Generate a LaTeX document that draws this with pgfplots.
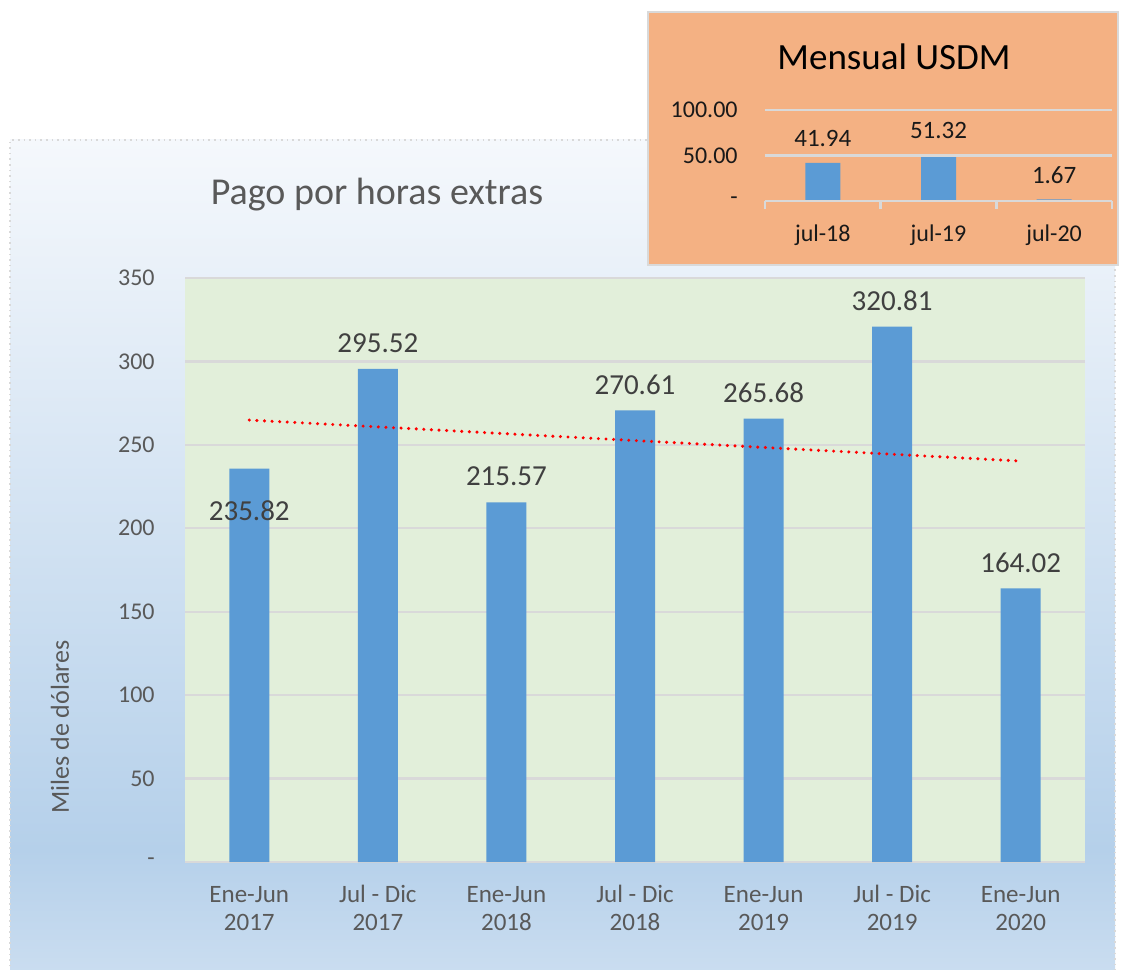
\documentclass[border=0pt]{standalone}
\usepackage{pgfplots}
\pgfplotsset{compat=1.18}
\usepackage{pgfplotstable}
\usepackage{fontspec}
\setmainfont{Carlito}
\definecolor{barblue}{HTML}{5B9BD5}
\definecolor{plotgreen}{HTML}{E2EFDA}
\definecolor{gridgray}{HTML}{D9D9D9}
\definecolor{txtgray}{HTML}{595959}
\definecolor{lbldark}{HTML}{404040}
\definecolor{orangebg}{HTML}{F4B183}
\definecolor{bgtop}{HTML}{F5F8FC}
\definecolor{bgmid}{HTML}{B5D0EA}
\definecolor{bgbot}{HTML}{CADDF0}

\pgfplotstableread{
x y off lab
0 235.82 -21 235.82
1 295.52 13 295.52
2 215.57 13 215.57
3 270.61 13 270.61
4 265.68 13 265.68
5 320.81 13 320.81
6 164.02 13 164.02
}\maindata
\pgfplotstableread{
x y lab
0 41.94 41.94
1 51.32 51.32
2 1.67 1.67
}\insetdata

\begin{document}
\begin{tikzpicture}
\path[use as bounding box] (0,0) rectangle (565.5pt,485pt);
\shade[top color=bgtop, bottom color=bgmid] (5pt,60pt) rectangle (557.5pt,415pt);
\shade[top color=bgmid, bottom color=bgbot] (5pt,-1pt) rectangle (557.5pt,60.2pt);
\draw[gridgray, dotted, line width=0.8pt] (5pt,-1pt) -- (5pt,415pt) -- (557.5pt,415pt) -- (557.5pt,-1pt);
\node[font=\fontsize{19}{22}\selectfont, text=txtgray] at (188.5pt,387.5pt) {Pago por horas extras};

\begin{axis}[
  at={(92.5pt,54pt)}, anchor=south west,
  width=450pt, height=292pt, scale only axis,
  xmin=-0.5, xmax=6.5, ymin=0, ymax=350,
  axis background/.style={fill=plotgreen},
  axis line style={draw=none},
  ymajorgrids, grid style={gridgray, line width=1.2pt},
  major tick length=0pt,
  ytick={0,50,...,350},
  yticklabels={-,50,100,150,200,250,300,350},
  xtick={0,...,6},
  xticklabels={{\strut Ene-Jun\\2017},{\strut Jul - Dic\\2017},{\strut Ene-Jun\\2018},{\strut Jul - Dic\\2018},{\strut Ene-Jun\\2019},{\strut Jul - Dic\\2019},{\strut Ene-Jun\\2020}},
  tick label style={font=\fontsize{12}{14}\selectfont, text=txtgray, inner sep=0pt},
  xticklabel style={align=center, font=\fontsize{12.5}{14}\selectfont, yshift=-10.2pt},
  yticklabel style={xshift=-15pt},
  ylabel={Miles de dólares},
  every axis y label/.style={at={(axis description cs:-0.139,0.231)}, rotate=90, anchor=center, font=\fontsize{13}{15}\selectfont, text=txtgray},
  clip=false,
]
\addplot[ybar, bar width=20pt, fill=barblue, draw=none,
  nodes near coords, point meta=explicit symbolic,
  nodes near coords style={font=\fontsize{14.5}{16}\selectfont, text=lbldark},
  visualization depends on={\thisrow{off} \as \myoff},
  every node near coord/.append style={anchor=center, yshift=\myoff pt},
] table[x=x, y=y, meta=lab] {\maindata};
\addplot[red, line width=1.7pt, dash pattern=on 0pt off 3.8pt, line cap=round] coordinates {(0,264.87) (6,240.28)};
\end{axis}

\fill[orangebg, draw=gridgray, line width=1pt] (324pt,352.5pt) rectangle (559pt,479pt);
\node[font=\fontsize{18.5}{20}\selectfont, text=black] at (447pt,456.5pt) {Mensual USDM};
\begin{axis}[
  at={(382.5pt,384.5pt)}, anchor=south west,
  width=173.5pt, height=45.5pt, scale only axis,
  xmin=-0.5, xmax=2.5, ymin=0, ymax=100,
  axis on top,
  axis line style={draw=none},
  ymajorgrids, grid style={gridgray, line width=1.4pt},
  major tick length=0pt,
  ytick={0,50,100}, yticklabels={-,50.00,100.00},
  xtick={0,1,2}, xticklabels={jul-18,jul-19,jul-20},
  minor xtick={-0.5,0.5,1.5,2.5},
  minor tick length=4pt, tick align=outside, tick pos=left,
  minor tick style={gridgray, line width=1.2pt},
  tick label style={font=\fontsize{12}{14}\selectfont, text=black!90, inner sep=0pt},
  xticklabel style={yshift=-11.5pt},
  yticklabel style={xshift=-13.5pt},
  clip=false,
]
\addplot[ybar, bar width=17.5pt, fill=barblue, draw=none,
  nodes near coords, point meta=explicit symbolic,
  nodes near coords style={font=\fontsize{12.5}{14}\selectfont, text=black!90},
  every node near coord/.append style={anchor=center, yshift=12pt},
] table[x=x, y=y, meta=lab] {\insetdata};
\end{axis}
\end{tikzpicture}
\end{document}
